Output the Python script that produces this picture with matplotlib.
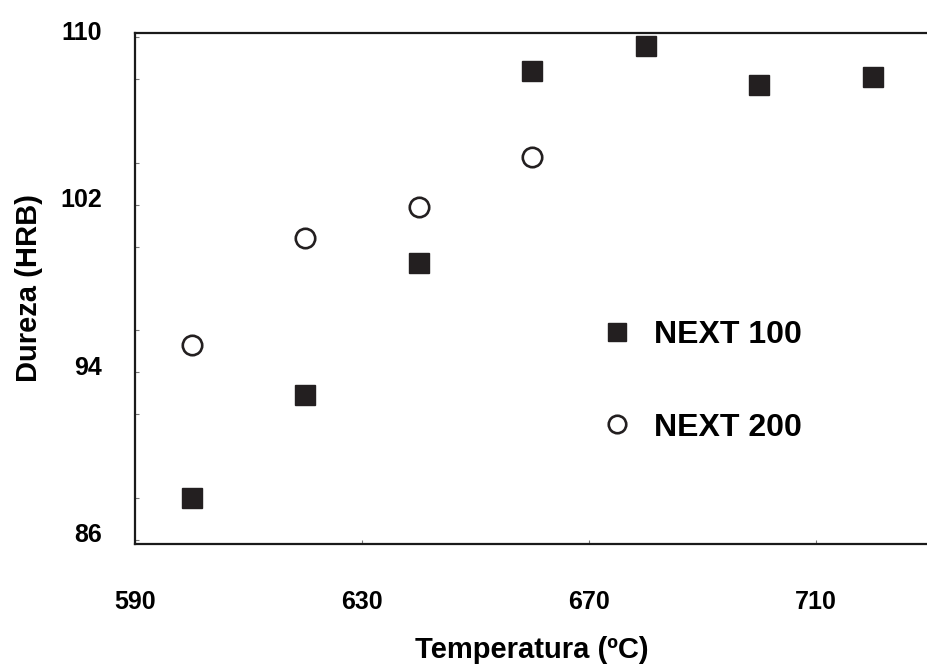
import matplotlib
matplotlib.use("Agg")
import matplotlib.pyplot as plt
from matplotlib.transforms import ScaledTranslation
from matplotlib.ticker import MultipleLocator

temp_100 = [600, 620, 640, 660, 680, 700, 720]
dureza_100 = [88.0, 92.9, 99.2, 108.4, 109.6, 107.7, 108.1]
temp_200 = [600, 620, 640, 660]
dureza_200 = [95.3, 100.4, 101.9, 104.3]
x_ticks = [590, 630, 670, 710]
y_ticks = [86, 94, 102, 110]

plt.rcParams['font.family'] = ['Liberation Sans', 'DejaVu Sans']
plt.rcParams['font.weight'] = 'bold'
ink = '#231f20'

fig = plt.figure(figsize=(9.28, 6.66), dpi=100)
ax = fig.add_axes([0.1455, 0.1832, 0.856, 0.7673])

ax.plot(temp_100, dureza_100, ls='none', marker='s', ms=15, color=ink, label='NEXT 100')
ax.plot(temp_200, dureza_200, ls='none', marker='o', ms=14, mfc='white', mec=ink, mew=1.9,
        label='NEXT 200')

ax.set_xlim(590, 730)
ax.set_ylim(85.8, 110.2)
ax.set_xticks(x_ticks)
ax.set_yticks(y_ticks)
ax.yaxis.set_minor_locator(MultipleLocator(4))
ax.tick_params(axis='both', which='both', direction='in', length=3, width=0.8, color='#777777')
ax.tick_params(axis='x', pad=33, labelsize=18)
ax.tick_params(axis='y', pad=24, labelsize=18)
for lab in ax.get_xticklabels() + ax.get_yticklabels():
    lab.set_fontweight('bold')
for lab in ax.get_yticklabels():
    lab.set_transform(lab.get_transform() + ScaledTranslation(0, 5/72, fig.dpi_scale_trans))

for s in ax.spines.values():
    s.set_linewidth(1.6)
    s.set_color('#1a1a1a')

ax.set_xlabel('Temperatura (ºC)', fontsize=21, fontweight='bold', labelpad=16)
ax.set_ylabel('Dureza (HRB)', fontsize=21, fontweight='bold', labelpad=12)

leg = ax.legend(loc='center left', bbox_to_anchor=(0.571, 0.318), frameon=False,
                fontsize=23, handlelength=0.8, handletextpad=0.75, labelspacing=1.95,
                markerscale=0.9, borderpad=0)

fig.savefig('out.png', dpi=100)
